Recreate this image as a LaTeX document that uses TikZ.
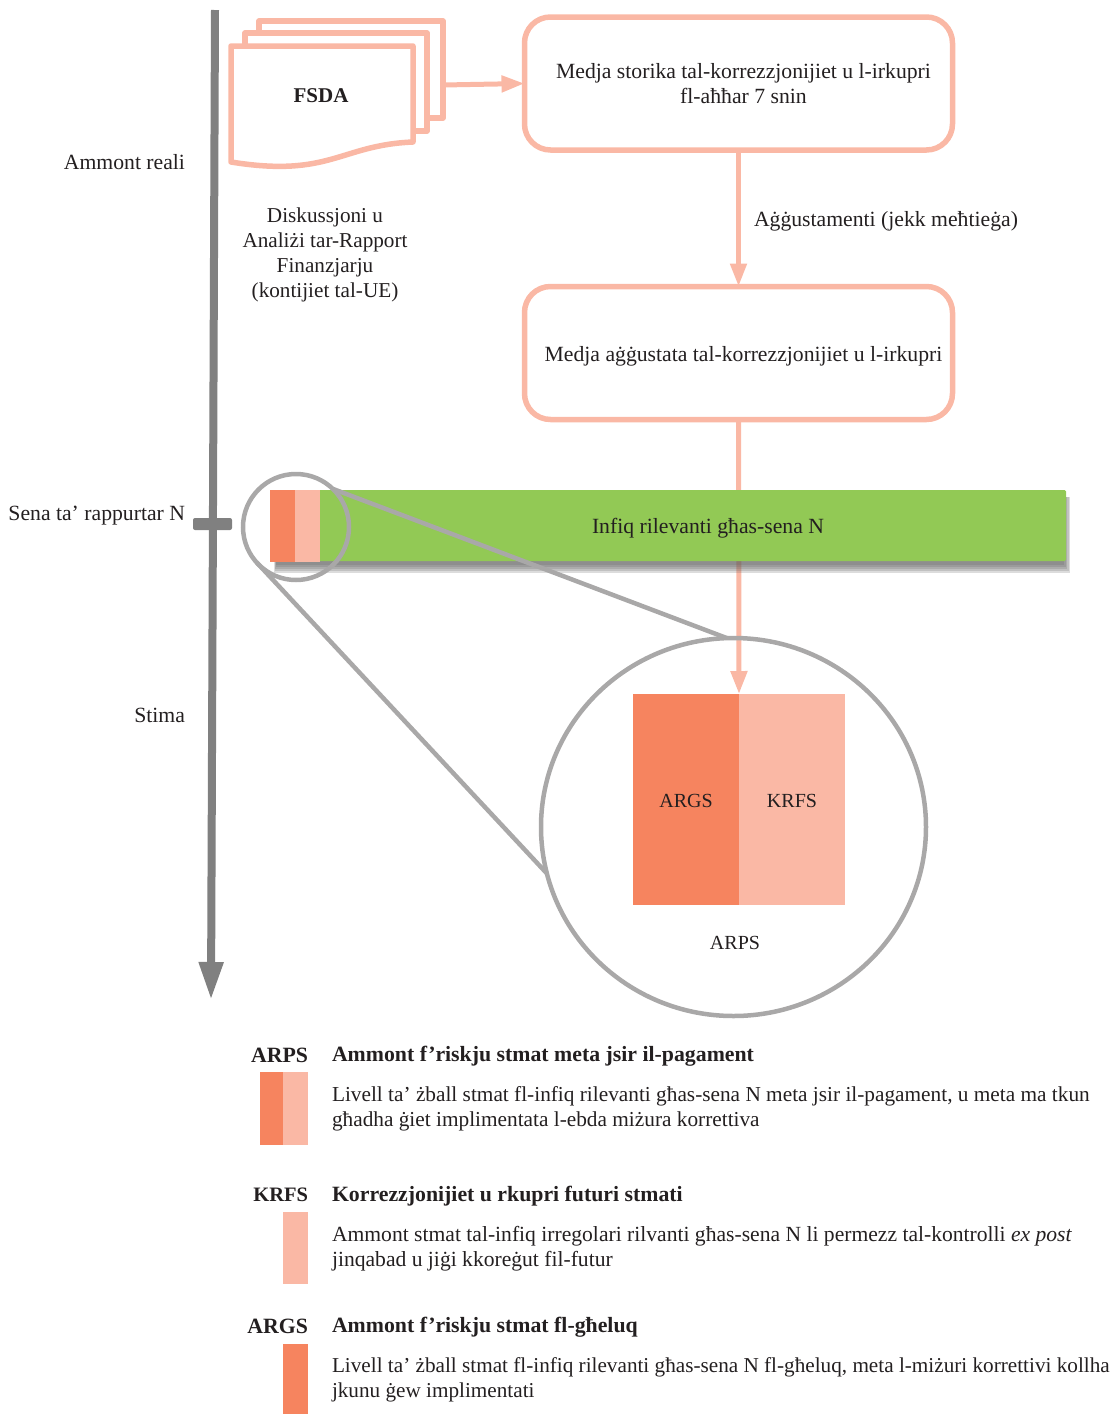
\documentclass[tikz,border=0pt]{standalone}
\usepackage{fontspec}
\setmainfont{Liberation Serif}
\usetikzlibrary{arrows.meta,shapes.geometric}
\definecolor{paleRed}{HTML}{FAB8A5}
\definecolor{strongRed}{HTML}{F6845F}
\definecolor{barGreen}{HTML}{92C955}
\definecolor{axisGrey}{HTML}{808080}
\definecolor{lensGrey}{HTML}{A9A8A8}
\definecolor{inkBlack}{HTML}{231F20}
\begin{document}
\begin{tikzpicture}
[x=1pt,y=-1pt,
  every node/.style={text=inkBlack,font=\fontsize{21.7}{25}\selectfont,inner sep=0pt,outer sep=0pt},
  boxDecorate/.style={draw=paleRed,line width=5.5pt,rounded corners=26pt,minimum width=428pt,minimum height=133pt},
  sheetDecorate/.style={draw=paleRed,fill=white,line width=5.5pt,line join=round},
  lineDecorate/.style={draw=paleRed,line width=5pt,-{Triangle[length=23pt,width=16pt]}},
  lensDecorate/.style={draw=lensGrey,line width=4.5pt},
  swatchRed/.style={fill=strongRed,anchor=north west},
  swatchPale/.style={fill=paleRed,anchor=north west},
  zoomText/.style={font=\fontsize{20}{25}\selectfont},
  legendHead/.style={font=\fontsize{21.8}{25}\selectfont\bfseries},
  legendText/.style={anchor=west,align=left}]
\useasboundingbox (0,0) rectangle (1117,1414);
%% time axis
\coordinate (axisTop) at (215,10);
\coordinate (axisEnd) at (211,1000);
\draw[axisGrey,line width=8pt,-{Triangle[length=38pt,width=23pt]}] (axisTop) -- (axisEnd);
\fill[axisGrey,rounded corners=2pt] (193,518) rectangle (232,530);
\foreach \nodename/\y/\txt in {
  realLabel/162/{Ammont reali}, yearLabel/515.5/{Sena ta’ rappurtar N}, estLabel/715.5/{Stima}}
{
  \node (\nodename) at (185,\y) [anchor=east] {\txt};
}
%% stacked documents
\draw[sheetDecorate] (259,21) -- (443,21) -- (443,118) -- (259,118) -- cycle;
\draw[sheetDecorate] (245,33) -- (427,33) -- (427,131) -- (245,131) -- cycle;
\draw[sheetDecorate] (231,46) -- (413,46) -- (413,142)
  .. controls (340,145) and (330,178) .. (231,162) -- cycle;
\node (fsda) at (321,96) [font=\fontsize{21}{25}\selectfont\bfseries] {FSDA};
\coordinate (sheetEdge) at (443,85);
\node (mdna) at (325,255) [align=center,font=\fontsize{21.2}{25}\selectfont] {Diskussjoni u\\Analiżi tar-Rapport\\Finanzjarju\\(kontijiet tal-UE)};
%% boxes
\node (histBox) at (738.5,83.5) [boxDecorate] {};
\node (histText) at (743.5,84) [align=center] {Medja storika tal-korrezzjonijiet u l-irkupri\\fl-aħħar 7 snin};
\node (adjBox) at (738.5,353) [boxDecorate] {};
\node (adjText) at (743.5,356) {Medja aġġustata tal-korrezzjonijiet u l-irkupri};
\node (adjLabel) at (754,221) [anchor=west] {Aġġustamenti (jekk meħtieġa)};
%% magnified part
\node (argsBig) at (633,694) [swatchRed,minimum width=106pt,minimum height=211pt] {};
\node (krfsBig) at (739,694) [swatchPale,minimum width=106pt,minimum height=211pt] {};
\node (argsText) at (686,801) [zoomText] {ARGS};
\node (krfsText) at (792,801) [zoomText] {KRFS};
\node (arpsText) at (735,943) [zoomText] {ARPS};
%% edges or lines
\draw[lineDecorate] (sheetEdge) -- (histBox.west);
\draw[lineDecorate] (histBox.south) -- (adjBox.north);
\draw[lineDecorate] (adjBox.south) -- (argsBig.north east);
\node (bigLens) at (733.5,827) [lensDecorate,shape=ellipse,minimum width=385pt,minimum height=378pt] {};
%% amount bar
\foreach \k in {0,...,4}
{
  \fill[black!62,opacity=.22] (276-0.5*\k,497) rectangle (1064+1.5*\k,565+2*\k);
}
\node (bar) at (270,490) [anchor=north west,fill=barGreen,rounded corners=1.5pt,minimum width=796pt,minimum height=71pt] {};
\node (barText) at (708,528) {Infiq rilevanti għas-sena N};
\node (argsSmall) at (270,490) [swatchRed,minimum width=25pt,minimum height=72pt] {};
\node (krfsSmall) at (295,490) [swatchPale,minimum width=25pt,minimum height=72pt] {};
\node (smallLens) at (296,527) [lensDecorate,shape=circle,minimum size=106pt] {};
\draw[lensGrey,line width=4.5pt] (smallLens.46) -- (bigLens.92.4);
\draw[lensGrey,line width=4.5pt,shorten <=-4pt] (smallLens.226) -- (bigLens.194.3);
%% key
\foreach \nodename/\y/\fs/\head/\txt in {
  arps/1054/21.3/{Ammont f’riskju stmat meta jsir il-pagament}/{Livell ta’ żball stmat fl-infiq rilevanti għas-sena N meta jsir il-pagament, u meta ma tkun\\għadha ġiet implimentata l-ebda miżura korrettiva},
  krfs/1194/21.6/{Korrezzjonijiet u rkupri futuri stmati}/{Ammont stmat tal-infiq irregolari rilvanti għas-sena N li permezz tal-kontrolli \textit{ex post}\\jinqabad u jiġi kkoreġut fil-futur},
  args/1325/21.2/{Ammont f’riskju stmat fl-għeluq}/{Livell ta’ żball stmat fl-infiq rilevanti għas-sena N fl-għeluq, meta l-miżuri korrettivi kollha\\jkunu ġew implimentati}}
{
  \node (\nodename Head) at (332,\y+2.5) [legendHead,anchor=west] {\head};
  \node (\nodename Text) at (332,\y+54.5) [legendText,font=\fontsize{\fs}{25}\selectfont] {\txt};
}
\node (arpsTag) at (308,1055) [legendHead,anchor=east] {ARPS};
\node (krfsTag) at (308,1195) [legendHead,anchor=east,font=\fontsize{20.5}{25}\selectfont\bfseries] {KRFS};
\node (argsTag) at (308,1326) [legendHead,anchor=east] {ARGS};
\node (arpsRed) at (260,1072) [swatchRed,minimum width=23pt,minimum height=73pt] {};
\node (arpsPale) at (283,1072) [swatchPale,minimum width=25pt,minimum height=73pt] {};
\node (krfsPale) at (283,1212) [swatchPale,minimum width=25pt,minimum height=72pt] {};
\node (argsRed) at (283,1344) [swatchRed,minimum width=25pt,minimum height=70pt] {};
\end{tikzpicture}
\end{document}
